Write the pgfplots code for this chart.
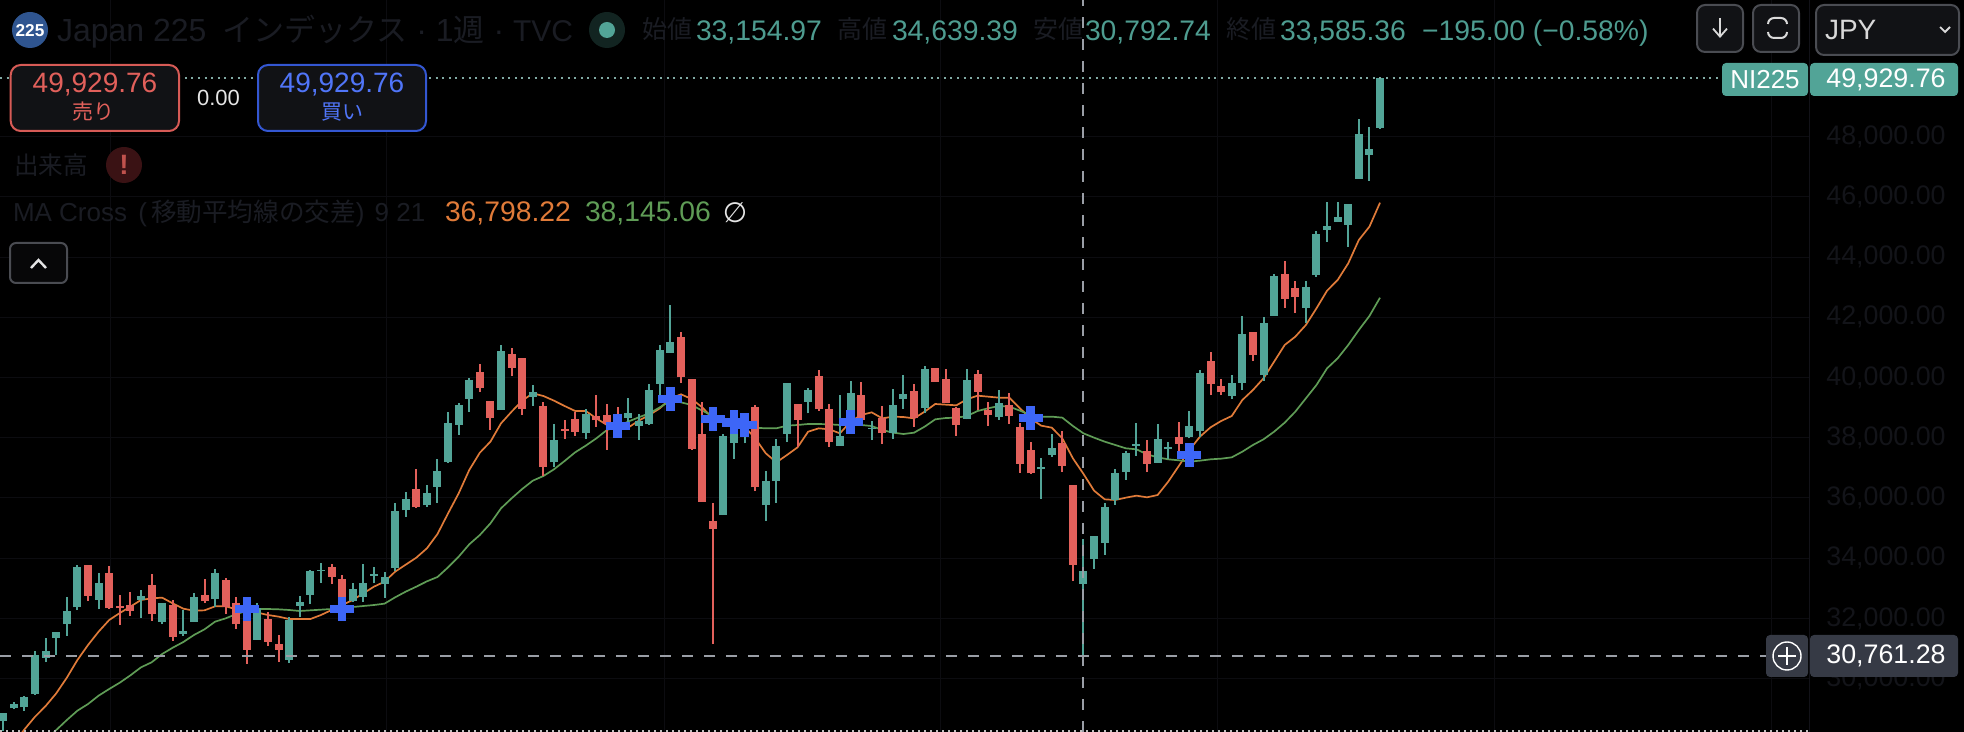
\documentclass[border=0pt]{standalone}
\usepackage{pgfplots}
\usepackage{pgfplotstable}
\usepackage{fontspec}
\usetikzlibrary{arrows.meta}
\pgfplotsset{compat=1.18}
\setmainfont{Liberation Sans}
\newfontfamily\cjk{Noto Sans CJK JP}
\newfontfamily\djv{DejaVu Sans}
\definecolor{teal1}{HTML}{52A497}
\definecolor{red1}{HTML}{E2605B}
\definecolor{maor}{HTML}{E07B39}
\definecolor{magr}{HTML}{5F9C56}
\definecolor{cross}{HTML}{3D66F7}
\definecolor{dimt}{HTML}{1A1C23}
\definecolor{ticktxt}{HTML}{131419}
\definecolor{valt}{HTML}{4E9C90}
\definecolor{gridc}{HTML}{0C0C10}
\definecolor{hair}{HTML}{9A9EA6}
\definecolor{btn}{HTML}{111215}
\definecolor{btnb}{HTML}{4A4C52}
\definecolor{logoc}{HTML}{2F5590}
\definecolor{alertc}{HTML}{3A1214}
\definecolor{tagd}{HTML}{363A45}

\pgfplotstableread{
i high top bot low
0 28870 28847 28604 28272
1 29235 29157 29013 28991
2 29412 29390 29047 28925
3 30917 30785 29489 29467
4 31349 30917 30696 30552
5 31548 31548 31349 30785
6 32700 32246 31814 31416
7 33762 33718 32368 32279
9 33497 33165 32611 32301
13 32943 32744 32600 32013
15 32523 32500 31881 31814
17 32279 31593 31493 31416
18 32833 32700 31881 31881
20 33630 33508 32633 32390
24 32500 32334 31283 31283
27 32058 31947 30619 30519
28 32733 32534 32423 32047
29 33596 33574 32777 32478
30 33829 33619 33585 33176
33 33165 32966 32589 32556
34 33796 33165 32700 32556
35 33718 33464 33419 33165
36 33552 33364 33143 32689
37 35822 35567 33663 33574
38 36209 35966 35589 35379
40 36430 36165 35755 35711
41 37283 36895 36364 35844
42 38844 38489 37194 37172
43 39143 39087 38423 38091
44 39973 39917 39287 38866
47 41080 40870 38921 38921
50 39740 39519 39364 39054
52 38456 37914 37183 37017
55 38943 38788 38157 37958
59 39309 38810 38656 38534
60 38777 38567 38390 37925
61 39774 39574 38456 38423
62 41080 40914 39785 39419
63 42408 41179 40814 40814
68 38124 38068 35434 35434
69 38810 38367 37825 37294
70 38644 38611 38113 37814
72 36895 36563 35766 35234
73 37958 37725 36563 35843
74 39806 39806 38124 37858
76 39640 39585 39186 38810
79 39419 38068 37736 37736
80 39884 39485 38168 38146
82 38555 38334 38290 37924
84 39618 39087 38168 37958
85 40083 39452 39286 38954
87 40382 40282 38976 38832
91 40282 39917 38633 38611
94 39585 39143 38678 38589
98 37316 37017 36951 35966
99 38124 37648 37427 37371
102 34639.39 33585.36 33154.97 30792.74
103 34737 34737 33973 33641
104 35833 35700 34504 34106
105 36951 36829 35932 35766
106 37549 37493 36862 36597
107 38478 37781 37726 37394
109 38456 37958 37161 37161
110 37859 37704 37615 37283
112 38888 38390 38036 37980
113 40250 40150 38213 38036
116 40084 39818 39375 39287
117 42043 41434 39829 39585
119 42009 41810 40083 39884
120 43437 43371 42043 42043
123 43205 43006 42308 41810
124 44865 44766 43404 43338
125 45840 45032 44899 44500
126 45840 45330 45164 45164
127 45762 45762 45065 44334
128 48586 48087 46593 46593
129 48320 47589 47390 46538
130 49929.76 49929.76 48287 48254
}\upbars

\pgfplotstableread{
i high top bot low
8 33774 33774 32744 32578
10 33740 33497 32334 32312
11 32777 32401 32346 31781
12 32877 32434 32246 32080
14 33475 33109 32146 31914
16 32611 32445 31393 31261
19 33298 32777 32567 32512
21 33331 33275 32368 32146
22 32700 32512 31803 31648
23 32368 32334 30951 30486
25 32224 31980 31216 31084
26 31438 31139 30951 30552
31 33807 33718 33386 33143
32 33430 33298 32279 32191
39 36951 36287 35689 35678
45 40449 40183 39641 39519
46 39220 39220 38644 38268
48 40969 40781 40327 40050
49 40648 40648 38954 38755
51 39198 39054 37028 36729
53 38589 38279 38224 37958
54 38866 38622 38191 38058
56 39419 38733 38578 38357
57 39120 38744 38456 37593
58 39010 38755 38678 38290
64 41500 41345 40006 39829
65 39950 39950 37626 37603
66 39175 38124 35877 35877
67 35821 35234 34969 31150
71 39076 39031 36353 36231
75 39109 39109 38589 37703
77 40249 40039 38943 38888
78 39109 38954 37847 37703
81 39840 39419 38589 38589
83 39054 38644 38146 37792
86 39784 39552 38644 38367
88 40316 40316 39862 39862
89 40282 39950 39142 39142
90 39031 38998 38423 38057
92 40250 40128 39530 38921
93 39187 38921 38755 38390
95 39497 39076 38722 38456
96 38478 38346 37128 36829
97 37870 37582 36818 36796
100 38224 37836 37062 36862
101 36431 36431 33780 33242
108 37925 37560 37128 36862
111 38523 38025 37792 37538
114 40836 40538 39785 39419
115 39951 39707 39519 39419
118 41511 41511 40747 40548
121 43869 43437 42607 42308
122 43205 42973 42674 42142
}\downbars

\pgfplotstableread{
i v
1 27851
2 28316
3 28737
4 29091
5 29512
6 30032
7 30619
8 31117
9 31560
10 31947
11 32179
12 32390
13 32611
14 32667
15 32689
16 32500
17 32323
18 32257
19 32268
20 32401
21 32401
22 32301
23 32257
24 32191
25 32113
26 32058
27 31980
28 31980
29 31980
30 32113
31 32279
32 32445
33 32611
34 32833
35 33054
36 33220
37 33552
38 33785
39 34017
40 34327
41 34803
42 35489
43 36154
44 36929
45 37504
46 37870
47 38478
48 38866
49 39231
50 39475
51 39386
52 39231
53 39054
54 38888
55 38888
56 38644
57 38423
58 38368
59 38334
60 38567
61 38755
62 38977
63 39309
64 39441
65 39286
66 39009
67 38644
68 38589
69 38567
70 38367
71 37980
72 37482
73 37183
74 37426
75 37681
76 38201
77 38312
78 38279
79 38146
80 38533
81 38755
82 38843
83 38644
84 38699
85 38688
86 38644
87 38865
88 39120
89 39098
90 39076
91 39280
92 39397
93 39364
94 39331
95 39331
96 38977
97 38645
98 38401
99 38335
100 37980
101 37316
102 36798.22
103 36242
104 35955
105 35932
106 36010
107 36076
108 36021
109 36098
110 36541
111 37062
112 37593
113 38036
114 38346
115 38556
116 38722
117 39253
118 39585
119 39973
120 40526
121 41080
122 41356
123 41744
124 42297
125 42884
126 43238
127 43792
128 44567
129 45009
130 45806
}\manine

\pgfplotstableread{
i v
4 27940
5 28294
6 28626
7 28936
8 29157
9 29434
10 29656
11 29866
12 30109
13 30375
14 30541
15 30818
16 31028
17 31216
18 31449
19 31637
20 31892
21 32002
22 32146
23 32246
24 32312
25 32312
26 32301
27 32279
28 32246
29 32268
30 32290
31 32312
32 32368
33 32379
34 32412
35 32445
36 32490
37 32700
38 32888
39 33054
40 33231
41 33375
42 33696
43 34050
44 34460
45 34770
46 35157
47 35656
48 35988
49 36298
50 36574
51 36729
52 36951
53 37227
54 37515
55 37737
56 37980
57 38257
58 38368
59 38534
60 38678
61 38810
62 39010
63 39231
64 39175
65 39087
66 38899
67 38722
68 38567
69 38478
70 38401
71 38334
72 38312
73 38312
74 38401
75 38423
76 38456
77 38456
78 38445
79 38423
80 38423
81 38423
82 38389
83 38257
84 38168
85 38124
86 38168
87 38367
88 38611
89 38655
90 38666
91 38720
92 38888
93 38977
94 39054
95 39032
96 38899
97 38755
98 38700
99 38700
100 38667
101 38390
102 38145.06
103 38002
104 37870
105 37759
106 37648
107 37615
108 37449
109 37349
110 37283
111 37250
112 37205
113 37239
114 37283
115 37305
116 37349
117 37537
118 37759
119 37947
120 38201
121 38500
122 38866
123 39308
124 39751
125 40305
126 40637
127 41080
128 41578
129 42043
130 42651
}\matwentyone

\pgfplotstableread{
i v
23 32312
32 32312
58 38390
63 39287
67 38622
69 38511
70 38423
80 38522
97 38656
112 37427
}\crosses

\newcommand{\candles}[2]{%
  \addplot[draw=none,mark=none,error bars/.cd,y dir=plus,y explicit,error mark=none,
    error bar style={color=#2,line width=1pt}]
    table[x=i,y=low,y error plus expr=\thisrow{high}-\thisrow{low}]{#1};
  \addplot[draw=none,mark=none,error bars/.cd,y dir=plus,y explicit,error mark=none,
    error bar style={color=#2,line width=4pt}]
    table[x=i,y=bot,y error plus expr=\thisrow{top}-\thisrow{bot}]{#1};
}
\newcommand{\fs}[1]{\fontsize{#1}{#1}\selectfont}

\begin{document}
\begin{tikzpicture}
\useasboundingbox (0,0) rectangle (982pt,366pt);
\fill[black] (0,0) rectangle (982pt,366pt);
\clip (0,0) rectangle (982pt,366pt);
\begin{axis}[
  at={(0,0)},anchor=south west,
  scale only axis,width=904.5pt,height=366pt,
  xmin=-0.312,xmax=170.51,
  ymin=28228,ymax=52537,
  axis line style={draw=none},
  major tick length=0pt,
  xtick={10.08,36.2,62.4,88.5,114.7,140.8,167},
  xticklabels={},
  ytick={28000,30000,32000,34000,36000,38000,40000,42000,44000,46000,48000},
  yticklabel pos=right,
  xmajorgrids,ymajorgrids,
  grid style={color=gridc,line width=0.5pt},
  scaled y ticks=false,
  /pgf/number format/fixed,
  /pgf/number format/fixed zerofill,
  /pgf/number format/precision=2,
  /pgf/number format/1000 sep={,},
  /pgf/number format/assume math mode=true,
  yticklabel style={font=\fs{13.4},text=ticktxt,anchor=west,xshift=8.5pt,inner sep=0pt},
  clip=true,
]
\addplot[maor,line width=0.85pt] table[x=i,y=v]{\manine};
\addplot[magr,line width=0.85pt] table[x=i,y=v]{\matwentyone};
\addplot[only marks,mark=+,mark size=6pt,mark options={color=cross,line width=4.3pt}] table[x=i,y=v]{\crosses};
\candles{\upbars}{teal1}
\candles{\downbars}{red1}
\addplot[color=teal1!60!white!85!black,line width=1pt,dash pattern=on 1pt off 2.3pt] coordinates {(-0.312,49929.76)(162.3,49929.76)};
\addplot[color=white!75!black,line width=1pt,dash pattern=on 1pt off 2pt] coordinates {(-0.312,28262)(170.51,28262)};
\addplot[color=hair,line width=1pt,dash pattern=on 5.5pt off 5.5pt] coordinates {(-0.312,30761.28)(166.45,30761.28)};
\addplot[color=hair,line width=1pt,dash pattern=on 5.5pt off 5.5pt] coordinates {(102,28228)(102,52537)};
\end{axis}
\begin{scope}[x=0.5pt,y=-0.5pt,yshift=366pt,every node/.style={inner sep=0pt,outer sep=0pt}]
% panel edge
\draw[color=gridc!150!black,line width=0.5pt] (1809,0) -- (1809,732);
% header
\fill[color=logoc] (30,30) circle (18);
\node[text=white,font=\fs{8.6}\bfseries] at (30,30.5) {225};
\node[anchor=base west,text=dimt,font=\fs{16}] at (57,42) {Japan 225\hspace{3.5pt} {\cjk\fs{15.5}インデックス} · 1{\cjk\fs{15.5}週} · {\fs{15}TVC}};
\fill[color=teal1!22!black] (607,30) circle (18);
\fill[color=teal1] (607,30) circle (8);
\node[anchor=base west,text=dimt,font=\fs{12.5}\cjk] at (642,38.5) {始値};
\node[anchor=base west,text=valt,font=\fs{14.15}] at (696,40.5) {33,154.97};
\node[anchor=base west,text=dimt,font=\fs{12.5}\cjk] at (837,38.5) {高値};
\node[anchor=base west,text=valt,font=\fs{14.15}] at (892,40.5) {34,639.39};
\node[anchor=base west,text=dimt,font=\fs{12.5}\cjk] at (1033,38.5) {安値};
\node[anchor=base west,text=valt,font=\fs{14.15}] at (1085,40.5) {30,792.74};
\node[anchor=base west,text=dimt,font=\fs{12.5}\cjk] at (1226,38.5) {終値};
\node[anchor=base west,text=valt,font=\fs{14.15}] at (1280,40.5) {33,585.36};
\node[anchor=base west,text=valt,font=\fs{14.15}] at (1422,40.5) {−195.00 (−0.58\%)};
% buttons
\draw[fill=btn,draw=btnb,line width=1pt,rounded corners=4pt] (1697,5) rectangle (1743,52);
\draw[white!85!black,line width=0.9pt,-{Straight Barb[length=4pt,width=7pt]}] (1720,18) -- (1720,38);
\draw[fill=btn,draw=btnb,line width=1pt,rounded corners=4pt] (1753,5) rectangle (1799,52);
\draw[white!85!black,line width=1pt,rounded corners=3pt] (1768,24) -- (1768,18) -- (1787,18) -- (1787,24);
\draw[white!85!black,line width=1pt,rounded corners=3pt] (1768,32) -- (1768,38) -- (1787,38) -- (1787,32);
\draw[fill=btn,draw=btnb,line width=1pt,rounded corners=4pt] (1816,5) rectangle (1959,55);
\node[anchor=base west,text=white!85!black,font=\fs{14}] at (1825,40) {JPY};
\draw[white!85!black,line width=0.9pt] (1940,27) -- (1945,32) -- (1950,27);
% sell / buy
\draw[fill=btn,draw=red1!95!black,line width=1pt,rounded corners=5pt] (10.7,65) rectangle (179,131);
\node[text=red1,font=\fs{14}] at (95,85) {49,929.76};
\node[text=red1,font=\fs{10.5}\cjk] at (93,112) {売り};
\node[text=white!90!black,font=\fs{11}] at (218.5,98) {0.00};
\draw[fill=btn,draw=cross!85!black,line width=1pt,rounded corners=5pt] (258,65) rectangle (426,131);
\node[text=cross!90!white,font=\fs{14}] at (342,85) {49,929.76};
\node[text=cross!90!white,font=\fs{10.5}\cjk] at (342,112) {買い};
% indicators
\node[anchor=west,text=dimt,font=\fs{12.3}\cjk] at (14,165) {出来高};
\fill[color=alertc] (124,165) circle (18);
\node[text=red1!85!black,font=\fs{14}\bfseries] at (124,165) {!};
\node[anchor=base west,text=dimt,font=\fs{13}] at (13,222) {MA Cross\hspace{2pt} (\hspace{2pt}{\cjk\fs{12.8}移動平均線の交差})\hspace{1.5pt} 9 21};
\node[anchor=base west,text=maor,font=\fs{14.15}] at (445,222) {36,798.22};
\node[anchor=base west,text=magr,font=\fs{14.15}] at (585,222) {38,145.06};
\node[text=white!90!black,font=\fs{14}\djv] at (735,213) {∅};
\draw[fill=btn!40!black,draw=btnb,line width=1pt,rounded corners=3pt] (10,243) rectangle (67,283);
\draw[white!90!black,line width=1.2pt] (31,268) -- (38.5,260) -- (46,268);
% last price tags
\fill[teal1,rounded corners=2pt] (1722,63) rectangle (1808,96);
\node[text=white,font=\fs{13}] at (1765,79.5) {NI225};
\fill[teal1,rounded corners=2pt] (1810,63) rectangle (1958,96);
\node[text=white,font=\fs{13.4}] at (1886,79.5) {49,929.76};
% crosshair tags
\fill[color=tagd,rounded corners=2pt] (1766,635) rectangle (1808,677);
\draw[white,line width=0.7pt] (1787,656) circle (14);
\draw[white,line width=0.7pt] (1778,656) -- (1796,656) (1787,647) -- (1787,665);
\fill[color=tagd,rounded corners=2pt] (1810,635) rectangle (1958,677);
\node[text=white,font=\fs{13.4}] at (1886,656) {30,761.28};
\end{scope}
\end{tikzpicture}
\end{document}
